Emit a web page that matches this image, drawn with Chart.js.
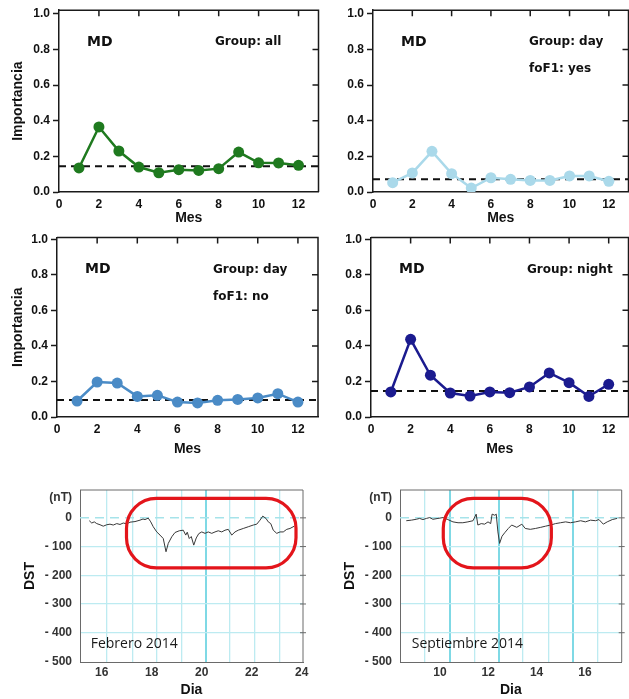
<!DOCTYPE html>
<html>
<head>
<meta charset="utf-8">
<script src="https://cdn.jsdelivr.net/npm/chart.js@4.4.0/dist/chart.umd.min.js"></script>
<style>
  html, body { margin: 0; padding: 0; background: #fff; overflow: hidden; }
  body { width: 629px; height: 699px; position: relative; }
  canvas { position: absolute; }
</style>
</head>
<body>
<canvas id="c1"></canvas>
<canvas id="c2"></canvas>
<canvas id="c3"></canvas>
<canvas id="c4"></canvas>
<canvas id="feb"></canvas>
<canvas id="sep"></canvas>
<script>
// importancia MD por mes, por grupo
const months = [1, 2, 3, 4, 5, 6, 7, 8, 9, 10, 11, 12];
const mdAll    = [0.135, 0.365, 0.23, 0.14, 0.108, 0.125, 0.121, 0.131, 0.224, 0.164, 0.163, 0.15];
const mdDayYes = [0.052, 0.107, 0.228, 0.103, 0.022, 0.08, 0.071, 0.065, 0.065, 0.09, 0.09, 0.06];
const mdDayNo  = [0.09, 0.197, 0.191, 0.116, 0.122, 0.084, 0.079, 0.094, 0.099, 0.107, 0.131, 0.084];
const mdNight  = [0.141, 0.437, 0.235, 0.135, 0.118, 0.141, 0.137, 0.169, 0.248, 0.193, 0.116, 0.184];
const meanAll = 0.144, meanDayYes = 0.071, meanDayNo = 0.096, meanNight = 0.146;
const monthTicks = [0, 2, 4, 6, 8, 10, 12];
const importTicks = [0, 0.2, 0.4, 0.6, 0.8, 1.0];

// indice DST (nT)
const febDay = [15.5, 15.6, 15.7, 15.8, 15.93, 16.06, 16.2, 16.33, 16.46, 16.6, 16.73, 16.86, 17.0, 17.13, 17.33,
  17.45, 17.53, 17.65, 17.73, 17.86, 17.96, 18.06, 18.2, 18.33, 18.46, 18.57, 18.66, 18.8, 18.93, 19.1, 19.26,
  19.36, 19.42, 19.5, 19.58, 19.68, 19.78, 19.88, 20.0, 20.13, 20.26, 20.4, 20.53, 20.66, 20.8, 20.93, 21.06,
  21.2, 21.33, 21.46, 21.66, 21.86, 22.06, 22.2, 22.33, 22.44, 22.57, 22.66, 22.76, 22.86, 23.0, 23.13, 23.26,
  23.4, 23.53, 23.7];
const febDst = [-10, -18, -14, -20, -24, -29, -24, -22, -25, -20, -23, -18, -21, -15, -13,
  -10, -8, -4, -6, -1, -14, -31, -49, -60, -72, -118, -89, -66, -51, -45, -43,
  -60, -50, -72, -65, -95, -70, -55, -49, -54, -49, -54, -49, -45, -49, -43, -40,
  -60, -49, -43, -37, -31, -25, -22, -8, 6, -2, -14, -20, -43, -54, -49, -49,
  -40, -37, -29];
const sepDay = [8.61, 8.82, 9.02, 9.16, 9.3, 9.44, 9.58, 9.71, 9.92, 10.13, 10.33, 10.54, 10.75, 10.95, 11.16,
  11.37, 11.5, 11.57, 11.71, 11.85, 11.99, 12.1, 12.16, 12.27, 12.33, 12.4, 12.47, 12.57, 12.68, 12.83, 12.97,
  13.18, 13.39, 13.53, 13.74, 13.95, 14.17, 14.37, 14.58, 14.78, 14.99, 15.2, 15.4, 15.61, 15.82, 16.02, 16.23,
  16.44, 16.58, 16.76, 16.92, 17.13, 17.33];
const sepDst = [-10, -8, -5, -2, -6, -2, 1, -5, -2, 1, -6, -14, -17, -17, -14,
  -10, 13, -25, -20, -22, -14, -20, 13, 9, 13, -49, -89, -64, -52, -37, -25,
  -33, -22, -37, -40, -37, -33, -29, -25, -20, -17, -14, -17, -14, -10, -14, -8,
  -10, -6, -22, -14, -6, -2];
const febTicks = [16, 18, 20, 22, 24];
const sepTicks = [10, 12, 14, 16];
const dstTicks = [-500, -400, -300, -200, -100, 0, 70];
const febGrid = [16.2, 17.22, 18.2, 19.2, 20.16, 21.13, 22.13, 23.13];
const sepGrid = [9.38, 10.42, 11.42, 12.45, 13.44, 14.48, 15.51, 16.52];
const febBright = [20.16];
const sepBright = [10.42, 12.45, 15.51];

const SANS = '"Liberation Sans", Arial, sans-serif';

function place(id, box) {
  const cv = document.getElementById(id);
  cv.width = box.w; cv.height = box.h;
  cv.style.left = box.x + 'px';
  cv.style.top = box.y + 'px';
  return cv;
}

function topDeco(notes) {
  return {
    id: 'topDeco',
    afterDraw(chart) {
      const { ctx, chartArea: a, scales } = chart;
      ctx.save();
      ctx.strokeStyle = '#1a1a1a';
      ctx.lineWidth = 1.5;
      ctx.beginPath();
      ctx.moveTo(a.left, a.top); ctx.lineTo(a.right, a.top); ctx.lineTo(a.right, a.bottom);
      monthTicks.forEach(v => {
        if (v <= 0) return;
        const px = scales.x.getPixelForValue(v);
        ctx.moveTo(px, a.top); ctx.lineTo(px, a.top + 6);
      });
      importTicks.forEach(v => {
        if (v <= 0 || v >= 1) return;
        const py = scales.y.getPixelForValue(v);
        ctx.moveTo(a.right, py); ctx.lineTo(a.right - 6, py);
      });
      ctx.stroke();
      ctx.fillStyle = '#111';
      ctx.textBaseline = 'middle';
      ctx.font = 'bold 14px "DejaVu Sans"';
      ctx.fillText('MD', a.left + 28, a.top + 32);
      ctx.font = 'bold 12px "DejaVu Sans"';
      notes.forEach((t, i) => ctx.fillText(t, a.left + 156, a.top + 32 + 27 * i));
      ctx.restore();
    }
  };
}

function topChart(id, box, vals, mean, color, notes, yTitle, ymax) {
  const cv = place(id, box);
  new Chart(cv, {
    type: 'scatter',
    data: {
      datasets: [
        {
          data: months.map((m, i) => ({ x: m, y: vals[i] })),
          showLine: true, borderColor: color, backgroundColor: color,
          borderWidth: 2.5, pointRadius: 5.5, pointBorderWidth: 0, order: 0
        },
        {
          data: [{ x: 0, y: mean }, { x: 13, y: mean }],
          showLine: true, borderColor: '#111', borderWidth: 2, borderDash: [7, 5],
          pointRadius: 0, order: 1
        }
      ]
    },
    options: {
      responsive: false, animation: false, events: [],
      layout: { padding: { left: 0, top: box.t - box.y, right: box.x + box.w - box.r, bottom: 0 } },
      plugins: { legend: { display: false }, tooltip: { enabled: false } },
      scales: {
        x: {
          type: 'linear', min: 0, max: 13,
          afterBuildTicks: s => { s.ticks = monthTicks.map(v => ({ value: v })); },
          afterFit: s => { s.height = box.y + box.h - box.b; },
          grid: { display: false },
          border: { display: true, color: '#1a1a1a', width: 1.5 },
          ticks: { padding: box.xpad, color: '#111', font: { family: SANS, weight: 'bold', size: 12 } },
          title: {
            display: true, text: 'Mes', color: '#111',
            font: { family: SANS, weight: 'bold', size: 14 },
            padding: { top: 0, bottom: box.y + box.h - box.mes - 8.4 }
          }
        },
        y: {
          min: 0, max: ymax,
          afterBuildTicks: s => { s.ticks = importTicks.map(v => ({ value: v })); },
          afterFit: s => { s.width = box.l - box.x; },
          grid: { display: true, drawOnChartArea: false, drawTicks: true, tickLength: 6, tickColor: '#1a1a1a', tickWidth: 1.5 },
          border: { display: true, color: '#1a1a1a', width: 1.5 },
          ticks: { padding: 3, color: '#111', font: { family: SANS, weight: 'bold', size: 12 }, callback: v => v.toFixed(1) },
          title: {
            display: yTitle, text: 'Importancia', color: '#111',
            font: { family: SANS, weight: 'bold', size: 14 },
            padding: { top: 18.3 - box.x - 8.4, bottom: 0 }
          }
        }
      }
    },
    plugins: [topDeco(notes)]
  });
}

function dstDeco(cfg) {
  return {
    id: 'dstDeco',
    beforeDatasetsDraw(chart) {
      const { ctx, chartArea: a, scales } = chart;
      const y0 = scales.y.getPixelForValue(0);
      ctx.save();
      ctx.strokeStyle = '#a6e3ea';
      ctx.lineWidth = 1.5;
      ctx.setLineDash([9, 6]);
      ctx.beginPath(); ctx.moveTo(a.left, y0); ctx.lineTo(a.right, y0); ctx.stroke();
      ctx.restore();
    },
    afterDraw(chart) {
      const { ctx, chartArea: a, scales } = chart;
      ctx.save();
      ctx.strokeStyle = '#6a6a6a';
      ctx.lineWidth = 1;
      ctx.beginPath();
      ctx.moveTo(a.left, a.top); ctx.lineTo(a.right, a.top); ctx.lineTo(a.right, a.bottom);
      dstTicks.forEach(v => {
        if (v <= -500 || v > 0) return;
        const py = scales.y.getPixelForValue(v);
        ctx.moveTo(a.right - 3, py); ctx.lineTo(a.right + 3, py);
      });
      ctx.stroke();
      // recuadro rojo
      const x0 = scales.x.getPixelForValue(cfg.box[0]), x1 = scales.x.getPixelForValue(cfg.box[1]);
      const y0 = scales.y.getPixelForValue(cfg.box[2]), y1 = scales.y.getPixelForValue(cfg.box[3]);
      const r = 30;
      ctx.strokeStyle = '#e3151b';
      ctx.lineWidth = 3.2;
      ctx.beginPath();
      ctx.moveTo(x0 + r, y0);
      ctx.arcTo(x1, y0, x1, y1, r);
      ctx.arcTo(x1, y1, x0, y1, r);
      ctx.arcTo(x0, y1, x0, y0, r);
      ctx.arcTo(x0, y0, x1, y0, r);
      ctx.closePath();
      ctx.stroke();
      ctx.fillStyle = '#1a1a1a';
      ctx.textBaseline = 'middle';
      ctx.font = '14px "Open Sans"';
      ctx.fillText(cfg.label, a.left + cfg.lx, a.bottom - 18);
      ctx.restore();
    }
  };
}

function dstChart(id, box, days, dst, xmin, xmax, ticks, grid, bright, cfg) {
  const cv = place(id, box);
  new Chart(cv, {
    type: 'scatter',
    data: {
      datasets: [{
        data: days.map((d, i) => ({ x: d, y: dst[i] })),
        showLine: true, borderColor: '#383838', borderWidth: 1, pointRadius: 0,
        xAxisID: 'x', yAxisID: 'y'
      }]
    },
    options: {
      responsive: false, animation: false, events: [],
      layout: { padding: { left: 0, top: box.t - box.y, right: box.x + box.w - box.r, bottom: 0 } },
      plugins: { legend: { display: false }, tooltip: { enabled: false } },
      scales: {
        xg: {
          type: 'linear', position: 'bottom', min: xmin, max: xmax,
          afterBuildTicks: s => { s.ticks = grid.map(v => ({ value: v })); },
          afterFit: s => { s.height = 0; },
          grid: {
            drawTicks: false,
            color: c => bright.includes(c.tick.value) ? '#7fd9e5' : '#bdebf1',
            lineWidth: c => bright.includes(c.tick.value) ? 2 : 1.3
          },
          border: { display: false },
          ticks: { display: false, autoSkip: false }
        },
        x: {
          type: 'linear', position: 'bottom', min: xmin, max: xmax,
          afterBuildTicks: s => { s.ticks = ticks.map(v => ({ value: v })); },
          afterFit: s => { s.height = box.y + box.h - box.b; },
          grid: { display: false },
          border: { display: true, color: '#6a6a6a', width: 1 },
          ticks: { padding: -4.5, color: '#333', autoSkip: false, font: { family: SANS, weight: 'bold', size: 12 } },
          title: {
            display: true, text: 'Dia', color: '#111',
            font: { family: SANS, weight: 'bold', size: 14 },
            padding: { top: 0, bottom: box.y + box.h - box.dia - 8.4 }
          }
        },
        y: {
          min: -502, max: 97,
          afterBuildTicks: s => { s.ticks = dstTicks.map(v => ({ value: v })); },
          afterFit: s => { s.width = box.l - box.x; },
          grid: {
            drawTicks: false,
            color: c => (c.tick.value < 0 && c.tick.value > -500) ? '#bdebf1' : 'rgba(0,0,0,0)',
            lineWidth: 1.3
          },
          border: { display: true, color: '#6a6a6a', width: 1 },
          ticks: {
            padding: 8, color: '#333', font: { family: SANS, weight: 'bold', size: 12 },
            callback: v => v === 70 ? '(nT)' : (v < 0 ? '- ' + Math.abs(v) : String(v))
          },
          title: {
            display: true, text: 'DST', color: '#111',
            font: { family: SANS, weight: 'bold', size: 14 },
            padding: { top: box.dstx - box.x - 8.4, bottom: 0 }
          }
        }
      }
    },
    plugins: [dstDeco(cfg)]
  });
}

topChart('c1', { x: 0, y: 0, w: 324, h: 227, l: 59, t: 10, r: 320.5, b: 192, xpad: -3, mes: 218.3 },
  mdAll, meanAll, '#1f7a1f', ['Group: all'], true, 1.02);
topChart('c2', { x: 322, y: 0, w: 312, h: 227, l: 373, t: 10, r: 631, b: 192, xpad: -3, mes: 218.3 },
  mdDayYes, meanDayYes, '#aad9ea', ['Group: day', 'foF1: yes'], false, 1.02);
topChart('c3', { x: 0, y: 226, w: 324, h: 233, l: 57, t: 237.5, r: 318, b: 417, xpad: -3, mes: 449 },
  mdDayNo, meanDayNo, '#4a8bc6', ['Group: day', 'foF1: no'], true, 1.01);
topChart('c4', { x: 322, y: 226, w: 312, h: 233, l: 371, t: 237.5, r: 629, b: 417, xpad: -3, mes: 449 },
  mdNight, meanNight, '#1b1b8f', ['Group: night'], false, 1.01);

dstChart('feb', { x: 0, y: 470, w: 318, h: 229, l: 80, t: 490, r: 303, b: 662, dia: 690, dstx: 30 },
  febDay, febDst, 15.13, 24.05, febTicks, febGrid, febBright,
  { box: [16.99, 23.77, 68, -174], label: 'Febrero 2014', lx: 10.7 });
dstChart('sep', { x: 318, y: 470, w: 318, h: 229, l: 400, t: 490, r: 621.7, b: 662, dia: 690, dstx: 350 },
  sepDay, sepDst, 8.35, 17.52, sepTicks, sepGrid, sepBright,
  { box: [10.14, 14.61, 68, -174], label: 'Septiembre 2014', lx: 11.7 });
</script>
</body>
</html>
